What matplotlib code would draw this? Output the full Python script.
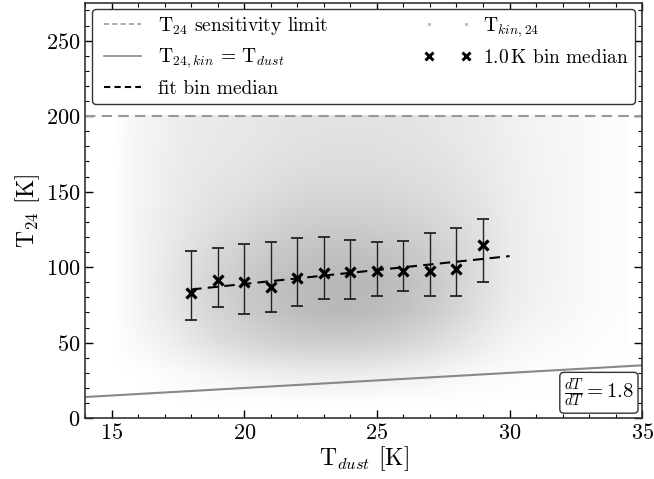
import matplotlib
matplotlib.use("Agg")
import matplotlib.pyplot as plt
from matplotlib.lines import Line2D
from matplotlib.ticker import MultipleLocator
from matplotlib.colors import LinearSegmentedColormap
import numpy as np

plt.rcParams['font.family'] = 'serif'
plt.rcParams['font.serif'] = ['cmr10']
plt.rcParams['mathtext.fontset'] = 'cm'
plt.rcParams['axes.formatter.use_mathtext'] = True

# 1 K bin medians of T24 with the spread shown as error bars
bin_x = [18, 19, 20, 21, 22, 23, 24, 25, 26, 27, 28, 29]
bin_med = [83.2, 91.4, 90.3, 87.0, 93.0, 95.8, 96.9, 97.6, 97.4, 97.4, 98.5, 114.6]
bin_lo = [64.9, 73.3, 69.3, 70.2, 74.6, 79.0, 78.8, 81.2, 83.9, 80.8, 80.8, 90.3]
bin_hi = [110.6, 112.8, 115.2, 116.8, 119.4, 120.1, 118.1, 116.6, 117.4, 122.7, 126.0, 132.2]

# linear fit through the bin medians
fit_x = [18, 30]
fit_y = [85.2, 107.3]
fit_slope = 1.8

# one-to-one line and sensitivity limit
kin_x = [14, 35]
kin_y = [14, 35]
t24_limit = 200

# density of the T_kin,24 point cloud
# rows: T24 = 10, 30, ..., 190 K ; columns: T_dust = 15, 16, ..., 34 K
cloud_x_edges = [14.5, 34.5]
cloud_y_edges = [0, 200]
cloud_density = [
    [0, 0, 0, 0, 0, 0, 0, 0, 0, 0, 0, 0, 0, 0, 0, 0, 0, 0, 0, 0],
    [0, 0, .05, .10, .15, .20, .24, .27, .28, .28, .26, .22, .18, .12, .08, .05, .03, .02, 0, 0],
    [0, .10, .20, .32, .45, .55, .63, .68, .70, .70, .66, .60, .50, .38, .26, .15, .10, .07, .04, .02],
    [0, .14, .28, .45, .60, .72, .82, .92, .97, .97, .93, .85, .73, .58, .40, .25, .17, .12, .07, .03],
    [0, .15, .30, .48, .62, .75, .85, .93, .97, 1.0, .97, .90, .78, .62, .45, .28, .20, .14, .08, .04],
    [0, .15, .28, .42, .55, .66, .75, .82, .86, .86, .84, .78, .70, .58, .44, .28, .20, .14, .08, .04],
    [0, .15, .26, .36, .45, .52, .60, .67, .70, .70, .68, .64, .58, .50, .40, .27, .19, .14, .08, .04],
    [0, .14, .24, .32, .38, .42, .48, .53, .56, .56, .55, .52, .48, .42, .35, .25, .18, .13, .08, .04],
    [0, .13, .22, .30, .33, .36, .41, .44, .46, .46, .46, .44, .41, .36, .30, .23, .17, .13, .08, .04],
    [0, .12, .21, .28, .31, .33, .36, .39, .41, .41, .41, .39, .36, .32, .28, .21, .16, .12, .08, .04],
]

fig = plt.figure(figsize=(6.54, 4.79), dpi=100)
ax = fig.add_axes([0.130, 0.127, 0.852, 0.867])

cloud_cmap = LinearSegmentedColormap.from_list('cloud', ['#ffffff', '#b8b8b8'])
ax.imshow(np.array(cloud_density), extent=cloud_x_edges + cloud_y_edges,
          origin='lower', cmap=cloud_cmap, vmin=0, vmax=1,
          interpolation='bilinear', aspect='auto', zorder=1)

ax.axhline(t24_limit, color='#999999', ls=(0, (5, 3)), lw=1.5, zorder=2)
ax.plot(kin_x, kin_y, color='#888888', lw=1.5, zorder=2)
ax.plot(fit_x, fit_y, color='k', ls=(0, (5, 3)), lw=1.5, zorder=4)

med = np.array(bin_med)
yerr = [med - np.array(bin_lo), np.array(bin_hi) - med]
ax.errorbar(bin_x, bin_med, yerr=yerr, fmt='none', ecolor='#222222',
            elinewidth=1.0, capsize=4, capthick=1.3, zorder=3)
ax.plot(bin_x, bin_med, ls='none', marker='x', color='k', ms=7, mew=2.3, zorder=5)

ax.set_xlim(14, 35)
ax.set_ylim(0, 275)
ax.xaxis.set_major_locator(MultipleLocator(5))
ax.xaxis.set_minor_locator(MultipleLocator(1))
ax.yaxis.set_major_locator(MultipleLocator(50))
ax.yaxis.set_minor_locator(MultipleLocator(10))
ax.tick_params(which='both', direction='in', top=True, right=True, labelsize=16)
ax.tick_params(which='major', length=6, width=1)
ax.tick_params(which='minor', length=3, width=0.8)
for s in ax.spines.values():
    s.set_linewidth(1.2)
    s.set_color('#333333')

ax.set_xlabel(r'T$_{dust}$ [K]', fontsize=17, labelpad=1)
ax.set_ylabel(r'T$_{24}$ [K]', fontsize=17, labelpad=3)

handles = [
    Line2D([], [], color='#999999', ls=(0, (3, 2)), lw=1.2),
    Line2D([], [], color='#888888', lw=1.2),
    Line2D([], [], color='k', ls=(0, (3, 2)), lw=1.5),
    Line2D([], [], ls='none', marker='s', ms=1.2, color='#bbbbbb'),
    Line2D([], [], ls='none', marker='x', color='k', ms=5.5, mew=2.1),
]
labels = [
    r'T$_{24}$ sensitivity limit',
    r'T$_{24,kin}$ = T$_{dust}$',
    'fit bin median',
    r'T$_{kin,24}$',
    r'1.0$\,$K bin median',
]
leg = ax.legend(handles, labels, ncol=2, numpoints=2, mode='expand',
                loc='upper left', bbox_to_anchor=(0.013, 0.0, 0.974, 0.985),
                borderaxespad=0, fontsize=14, fancybox=True, framealpha=1,
                borderpad=0.3, labelspacing=0.5, handlelength=2.5,
                handletextpad=0.6)
leg.get_frame().set_edgecolor('#333333')
leg.get_frame().set_linewidth(1.0)

ax.text(0.985, 0.022, r'$\frac{dT}{dT} = %.1f$' % fit_slope, transform=ax.transAxes,
        ha='right', va='bottom', fontsize=15,
        bbox=dict(boxstyle='round,pad=0.2', fc='white', ec='#333333', lw=1.0))

fig.savefig('out.png', dpi=100)
